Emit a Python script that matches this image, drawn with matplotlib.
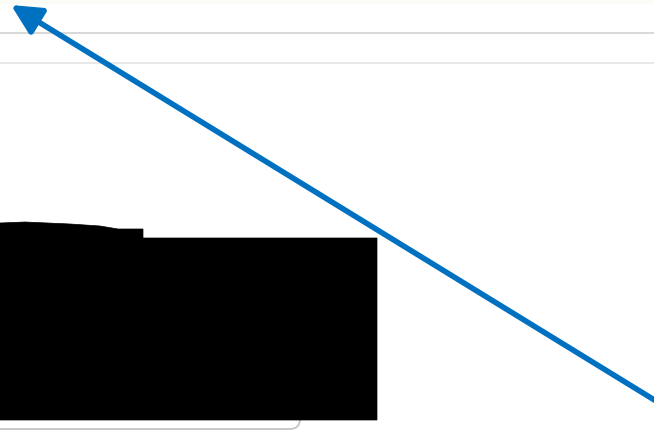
import matplotlib
matplotlib.use("Agg")
import matplotlib.pyplot as plt
from matplotlib.patches import Polygon, FancyBboxPatch, Rectangle

# Layout of the screenshot elements (pixel coordinates)
separator_rows = [33, 63]
separator_colors = ["#d6d6d6", "#e6e6e6"]
redaction_x = [0, 25, 70, 100, 118, 143, 143, 377, 377, 0]
redaction_y = [223, 222, 224, 226, 229, 229, 238, 238, 420, 420]
arrow_start = (656, 401)
arrow_tip = (11, 5)

W, H = 654, 433
fig = plt.figure(figsize=(W / 100, H / 100), dpi=100)
ax = fig.add_axes([0, 0, 1, 1])
ax.set_xlim(0, W)
ax.set_ylim(H, 0)
ax.axis("off")

# faint top strip
ax.add_patch(Rectangle((0, 0), W, 4, facecolor="#fcfcf6", edgecolor="none", zorder=0))

for y, c in zip(separator_rows, separator_colors):
    ax.axhline(y, color=c, lw=1.3, zorder=1)

# rounded card, only its bottom peeks out below the redaction
card = FancyBboxPatch((-30, 300), 330, 129, boxstyle="round,pad=0,rounding_size=10",
                      facecolor="white", edgecolor="#c4c4c4", lw=1.3, zorder=2)
ax.add_patch(card)

ax.add_patch(Polygon(list(zip(redaction_x, redaction_y)), closed=True,
                     facecolor="black", edgecolor="black", lw=0.5, zorder=3))

ax.annotate("", xy=arrow_tip, xytext=arrow_start,
            arrowprops=dict(arrowstyle="-|>,head_length=0.9,head_width=0.45",
                            lw=4.0, color="#0070C0", mutation_scale=20,
                            shrinkA=0, shrinkB=0),
            zorder=5)

fig.savefig("out.png", dpi=100, facecolor="white")
